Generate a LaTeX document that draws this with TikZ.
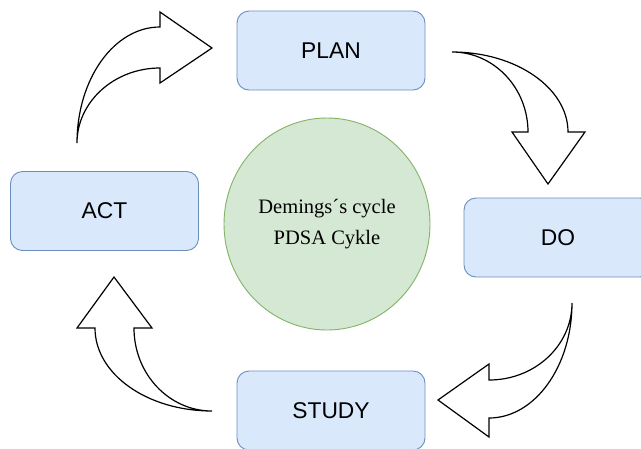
\documentclass[tikz,border=0pt]{standalone}
\usepackage{fontspec}
\setmainfont{Liberation Serif}
\newfontfamily\boxfont{Liberation Sans}
\usetikzlibrary{shapes.geometric}
\definecolor{boxfill}{HTML}{DAE8FC}
\definecolor{boxline}{HTML}{6C8EBF}
\definecolor{circfill}{HTML}{D5E8D4}
\definecolor{circline}{HTML}{82B366}
\tikzset{
  stagebox/.style={draw=boxline, fill=boxfill, rounded corners=12pt,
    minimum width=188pt, minimum height=79pt, line width=0.9pt, inner sep=0pt,
    font=\boxfont\fontsize{22.8}{27}\selectfont},
  centre/.style={ellipse, draw=circline, fill=circfill, line width=0.9pt,
    minimum width=206pt, minimum height=212pt, inner sep=0pt, align=center,
    font=\fontsize{20.5}{31.5}\selectfont},
  blockarrow/.style={draw=black, fill=white, line width=1.2pt, line join=miter}
}
\begin{document}
\begin{tikzpicture}[x=1pt,y=-1pt]
\useasboundingbox (0,0) rectangle (641,448);
\clip (0,0) rectangle (641,448);
\fill[white] (0,0) rectangle (641,448);

\node[stagebox] (plan)  at (331,50.5)  {PLAN};
\node[stagebox] (do)    at (558,237.5) {DO};
\node[stagebox] (act)   at (104.5,211) {ACT};
\node[stagebox] (study) at (331,410.5) {STUDY};
\node[centre]   (pdsa)  at (327,224)   {Demings´s cycle\\PDSA Cykle};

% ACT -> PLAN
\draw[blockarrow] (77,143) .. controls (77,79) and (114,27) .. (160,27)
  -- (160,12) -- (212,48) -- (160,83) -- (160,68)
  .. controls (114,68) and (77,102) .. (77,143) -- cycle;
% PLAN -> DO
\draw[blockarrow] (452,52) .. controls (516,52) and (568,88) .. (568,132)
  -- (585,132) -- (548,184) -- (512,132) -- (528,132)
  .. controls (528,88) and (494,52) .. (452,52) -- cycle;
% DO -> STUDY
\draw[blockarrow] (572,303) .. controls (572,366) and (535,418) .. (489,418)
  -- (489,437) -- (438,400) -- (489,364) -- (489,380)
  .. controls (535,380) and (572,345.5) .. (572,303) -- cycle;
% STUDY -> ACT
\draw[blockarrow] (212,411) .. controls (147,411) and (95,374) .. (95,328)
  -- (77,328) -- (114,277) -- (152,328) -- (134,328)
  .. controls (134,374) and (169,411) .. (212,411) -- cycle;
\end{tikzpicture}
\end{document}
